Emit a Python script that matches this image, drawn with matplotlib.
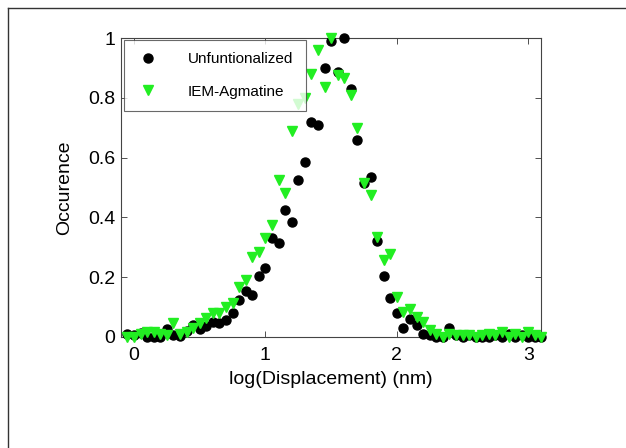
import numpy as np
import matplotlib
matplotlib.use('Agg')
import matplotlib.pyplot as plt
from matplotlib.lines import Line2D

plt.rcParams['font.family'] = ['Liberation Sans', 'DejaVu Sans']

# bin centres (log displacement, nm)
log_disp = np.round(np.arange(-0.05, 3.101, 0.05), 2)

unfunc = [0.01, 0.005, 0.012, 0.0, 0.0, 0.0, 0.025, 0.005, 0.003, 0.02,
          0.04, 0.025, 0.035, 0.05, 0.045, 0.055, 0.08, 0.125, 0.155, 0.14,
          0.205, 0.23, 0.33, 0.315, 0.425, 0.385, 0.525, 0.585, 0.72, 0.71,
          0.90, 0.99, 0.885, 1.0, 0.83, 0.66, 0.515, 0.535, 0.32, 0.205,
          0.13, 0.08, 0.03, 0.06, 0.04, 0.01, 0.005, 0.0, 0.0, 0.03,
          0.005, 0.0, 0.005, 0.0, 0.0, 0.0, 0.005, 0.0, 0.01, 0.0,
          0.005, 0.0, 0.0, 0.0]

agmatine = [0.0, 0.0, 0.01, 0.015, 0.015, 0.01, 0.005, 0.045, 0.01, 0.015,
            0.03, 0.046, 0.062, 0.079, 0.081, 0.10, 0.113, 0.166, 0.19, 0.269,
            0.285, 0.33, 0.375, 0.524, 0.48, 0.69, 0.78, 0.80, 0.88, 0.96,
            0.837, 1.0, 0.876, 0.865, 0.81, 0.70, 0.515, 0.475, 0.335, 0.256,
            0.277, 0.134, 0.084, 0.095, 0.067, 0.05, 0.022, 0.01, 0.0, 0.01,
            0.005, 0.005, 0.005, 0.0, 0.005, 0.01, 0.005, 0.015, 0.0, 0.01,
            0.0, 0.015, 0.005, 0.0]

fig = plt.figure(figsize=(6.26, 4.48), dpi=100)
ax = fig.add_axes([0.193, 0.248, 0.672, 0.667])

ax.plot(log_disp, unfunc, 'o', color='black', ms=6.5, clip_on=False,
        label='Unfuntionalized', zorder=3)
ax.plot(log_disp, agmatine, 'v', color='#22ee22', ms=7.5, clip_on=False,
        label='IEM-Agmatine', zorder=4)

ax.set_xlim(-0.1, 3.1)
ax.set_ylim(0, 1)
ax.set_xticks([0, 1, 2, 3])
ax.set_xticklabels(['0', '1', '2', '3'])
ax.set_yticks([0, 0.2, 0.4, 0.6, 0.8, 1])
ax.set_yticklabels(['0', '0.2', '0.4', '0.6', '0.8', '1'])
ax.tick_params(direction='in', top=True, right=True, labelsize=14,
               length=4, width=0.6, colors='#333333', labelcolor='black')
ax.tick_params(axis='x', pad=7)
ax.tick_params(axis='y', pad=4)
for s in ax.spines.values():
    s.set_linewidth(0.8)
    s.set_color('#444444')

ax.set_xlabel('log(Displacement) (nm)', fontsize=14, labelpad=5)
ax.set_ylabel('Occurence', fontsize=14, labelpad=11)

leg = ax.legend(loc='upper left', bbox_to_anchor=(0.007, 0.993), fontsize=11,
                frameon=True, fancybox=False, borderpad=0.8, labelspacing=1.2,
                handletextpad=1.8, handlelength=1.6, borderaxespad=0.0)
leg.get_frame().set_edgecolor('#444444')
leg.get_frame().set_linewidth(0.8)
leg.set_zorder(10)

# figure border (left and top edges visible)
fig.add_artist(Line2D([8 / 626, 8 / 626], [0, 1 - 8 / 448], color='#333333',
                      lw=1.0, transform=fig.transFigure))
fig.add_artist(Line2D([8 / 626, 1], [1 - 8 / 448, 1 - 8 / 448], color='#333333',
                      lw=1.0, transform=fig.transFigure))

fig.savefig('out.png', dpi=100)
